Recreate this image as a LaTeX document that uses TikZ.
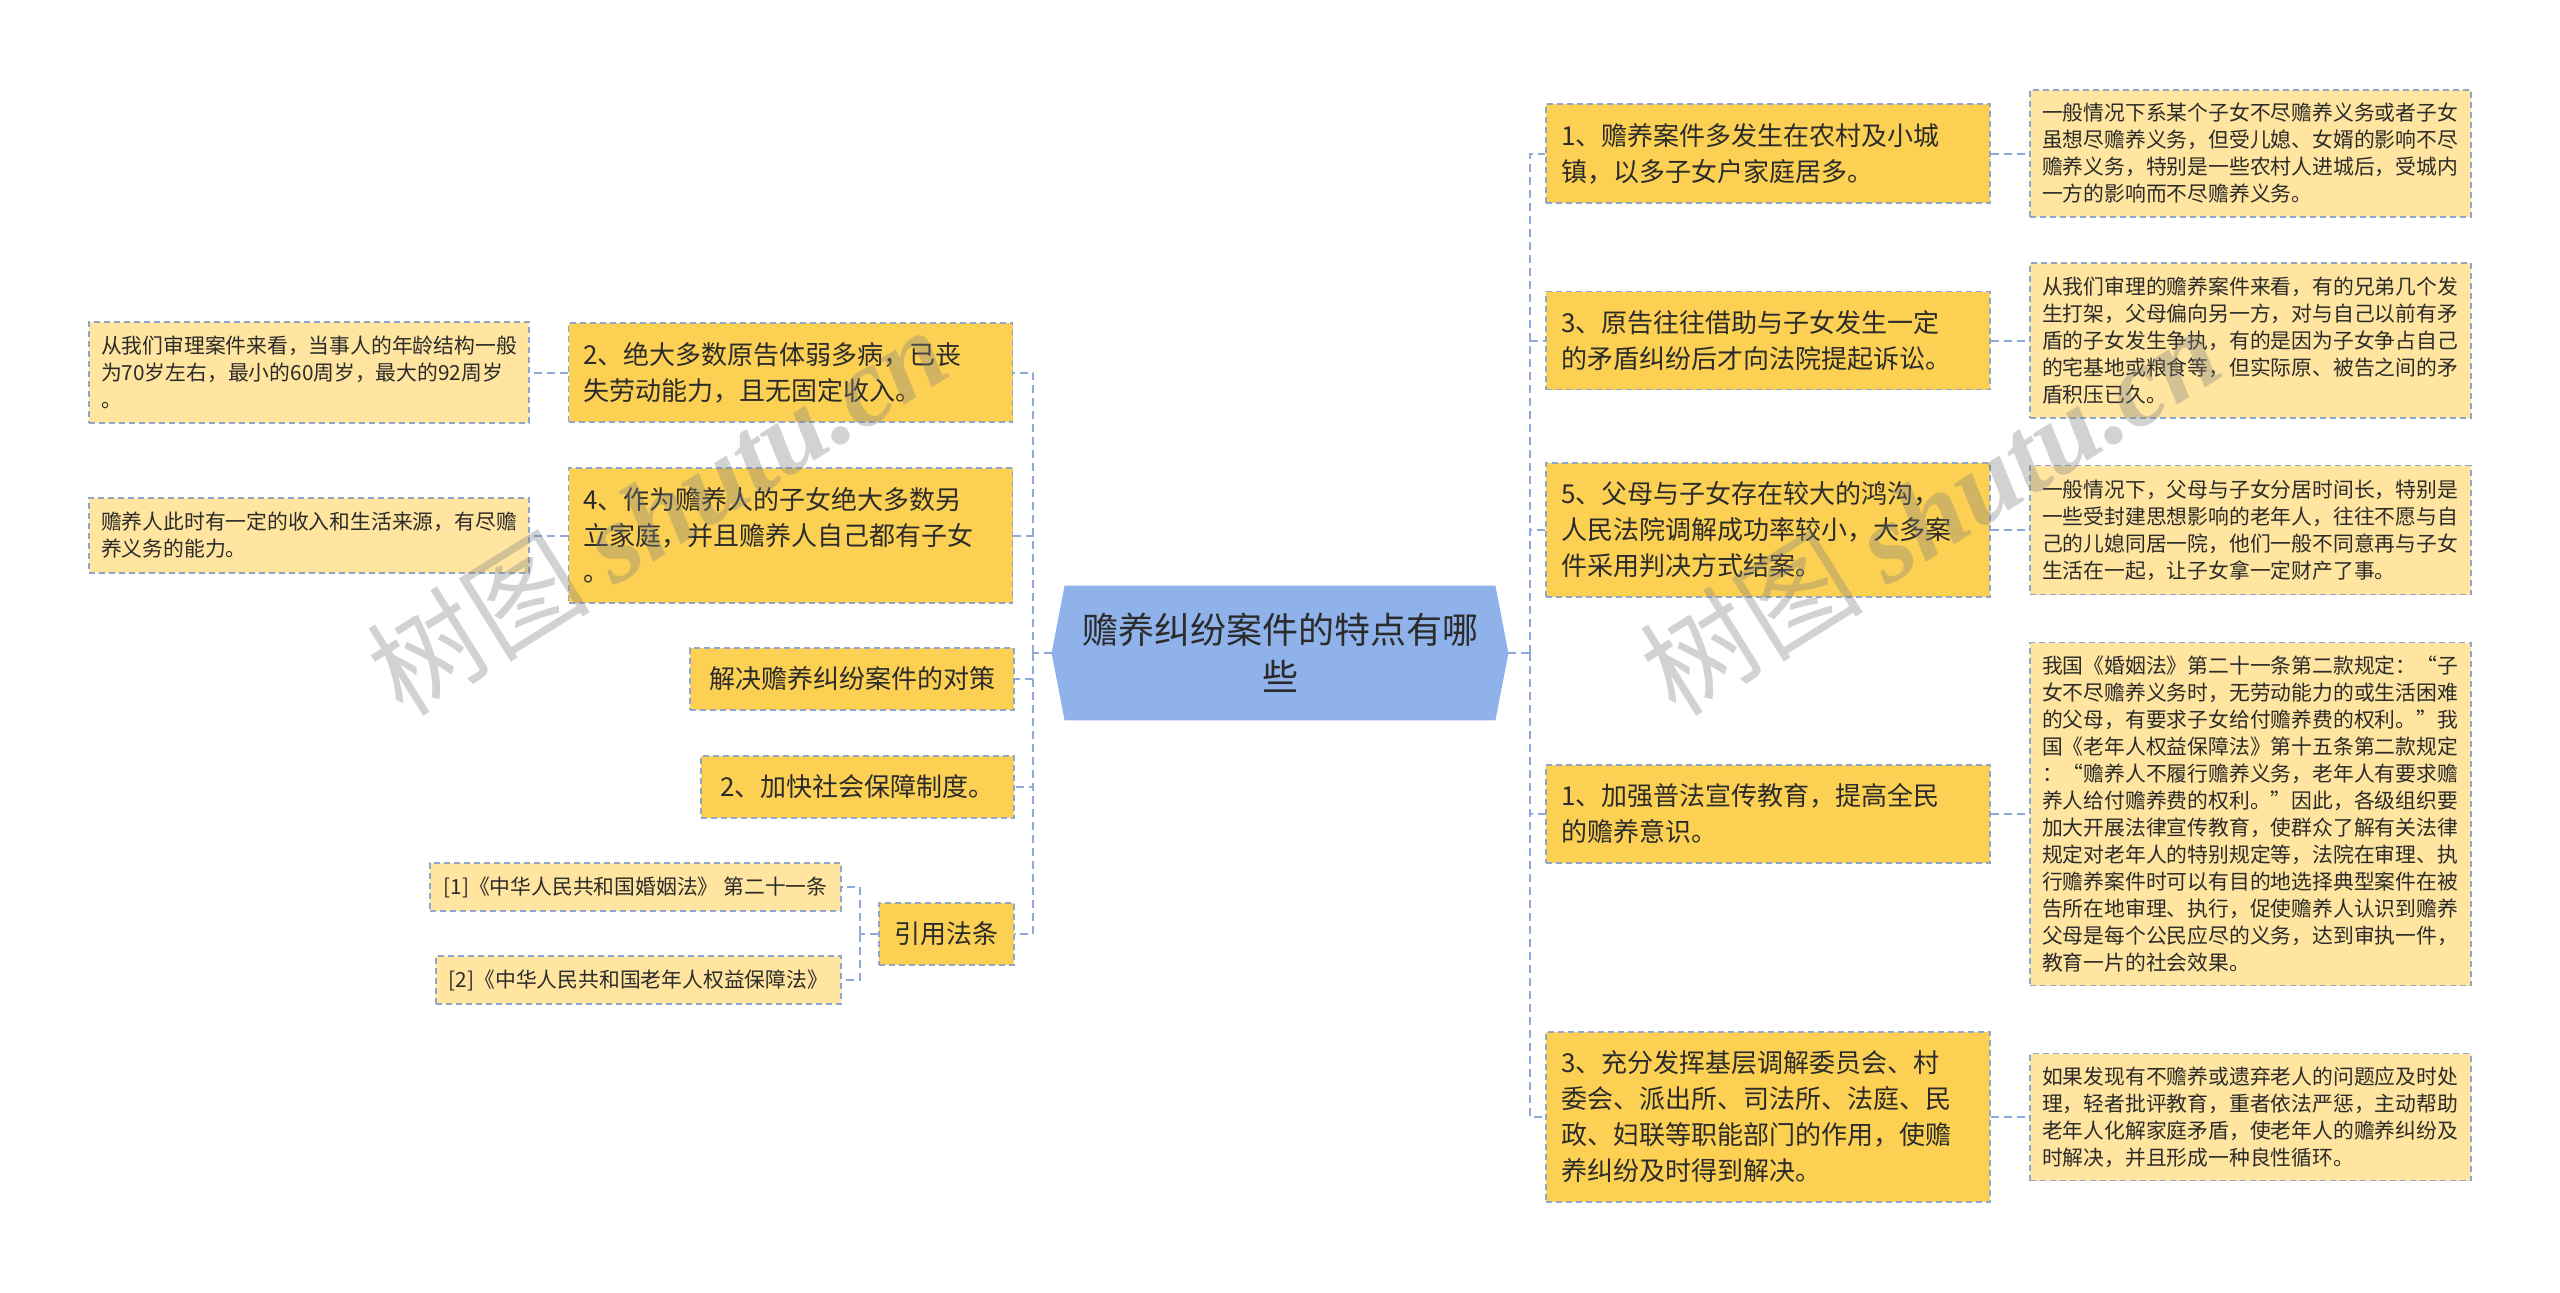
\documentclass[tikz,border=0pt]{standalone}
\usepackage{fontspec}
\setmainfont{Noto Sans CJK SC}
\newfontfamily\wmlat{Liberation Serif}
\usetikzlibrary{backgrounds}
\definecolor{mainfill}{HTML}{FCD153}
\definecolor{detfill}{HTML}{FFE59F}
\definecolor{rootfill}{HTML}{8EB2E9}
\definecolor{bordercol}{HTML}{8FA6CC}
\definecolor{conncol}{HTML}{8FA9D8}
\definecolor{txt}{HTML}{2B2B2B}
\begin{document}
\begin{tikzpicture}[x=0.5pt,y=-0.5pt,
  boxbase/.style={draw=bordercol, dash pattern=on 3pt off 2pt, line width=0.8pt, text=txt, inner ysep=0pt},
  mainbox/.style={boxbase, fill=mainfill, font=\fontsize{13}{18}\selectfont, inner xsep=7.5pt, align=left, text width=207pt},
  shortbox/.style={boxbase, fill=mainfill, font=\fontsize{13}{18}\selectfont, inner xsep=0pt, align=center, minimum height=31pt},
  detbox/.style={boxbase, fill=detfill, font=\fontsize{10.4}{13.5}\selectfont, inner xsep=6pt, align=left, text width=208.5pt},
  refbox/.style={boxbase, fill=detfill, font=\fontsize{10.4}{13.5}\selectfont, inner xsep=0pt, align=center, minimum height=24pt},
  rootnode/.style={text=txt, font=\fontsize{18}{23.5}\selectfont, align=center, minimum width=228pt, minimum height=67pt, inner sep=0pt},
  conn/.style={draw=conncol, line width=1pt, dash pattern=on 4pt off 2.5pt},
  wm/.style={text=gray, opacity=0.35, inner sep=0pt}]
\useasboundingbox (0,0) rectangle (2560,1292);
\begin{scope}[on background layer]
  \fill[white] (0,0) rectangle (2560,1292);
\end{scope}

% root
\node[rootnode] (root) at (1280,653) {赡养纠纷案件的特点有哪\\些};
\begin{scope}[on background layer]
  \fill[rootfill] (root.west) -- ([xshift=6.5pt]root.north west) -- ([xshift=-6.5pt]root.north east)
    -- (root.east) -- ([xshift=-6.5pt]root.south east) -- ([xshift=6.5pt]root.south west) -- cycle;
\end{scope}

% right main branches
\node[mainbox, minimum height=49.5pt] (r1) at (1768,153.5) {1、赡养案件多发生在农村及小城\\镇，以多子女户家庭居多。};
\node[mainbox, minimum height=49pt] (r2) at (1768,340.5) {3、原告往往借助与子女发生一定\\的矛盾纠纷后才向法院提起诉讼。};
\node[mainbox, minimum height=67pt] (r3) at (1768,530) {5、父母与子女存在较大的鸿沟，\\人民法院调解成功率较小，大多案\\件采用判决方式结案。};
\node[mainbox, minimum height=49pt] (r4) at (1768,814) {1、加强普法宣传教育，提高全民\\的赡养意识。};
\node[mainbox, minimum height=85pt] (r5) at (1768,1117) {3、充分发挥基层调解委员会、村\\委会、派出所、司法所、法庭、民\\政、妇联等职能部门的作用，使赡\\养纠纷及时得到解决。};

% right details
\node[detbox, minimum height=63.5pt] (d1) at (2250.5,153.5) {一般情况下系某个子女不尽赡养义务或者子女\\虽想尽赡养义务，但受儿媳、女婿的影响不尽\\赡养义务，特别是一些农村人进城后，受城内\\一方的影响而不尽赡养义务。};
\node[detbox, minimum height=77.5pt] (d2) at (2250.5,340.5) {从我们审理的赡养案件来看，有的兄弟几个发\\生打架，父母偏向另一方，对与自己以前有矛\\盾的子女发生争执，有的是因为子女争占自己\\的宅基地或粮食等，但实际原、被告之间的矛\\盾积压已久。};
\node[detbox, minimum height=64.5pt] (d3) at (2250.5,530) {一般情况下，父母与子女分居时间长，特别是\\一些受封建思想影响的老年人，往往不愿与自\\己的儿媳同居一院，他们一般不同意再与子女\\生活在一起，让子女拿一定财产了事。};
\node[detbox, minimum height=171.5pt] (d4) at (2250.5,814) {我国《婚姻法》第二十一条第二款规定：“子\\女不尽赡养义务时，无劳动能力的或生活困难\\的父母，有要求子女给付赡养费的权利。”我\\国《老年人权益保障法》第十五条第二款规定\\：“赡养人不履行赡养义务，老年人有要求赡\\养人给付赡养费的权利。”因此，各级组织要\\加大开展法律宣传教育，使群众了解有关法律\\规定对老年人的特别规定等，法院在审理、执\\行赡养案件时可以有目的地选择典型案件在被\\告所在地审理、执行，促使赡养人认识到赡养\\父母是每个公民应尽的义务，达到审执一件，\\教育一片的社会效果。};
\node[detbox, minimum height=63.5pt] (d5) at (2250.5,1117) {如果发现有不赡养或遗弃老人的问题应及时处\\理，轻者批评教育，重者依法严惩，主动帮助\\老年人化解家庭矛盾，使老年人的赡养纠纷及\\时解决，并且形成一种良性循环。};

% left main branches
\node[mainbox, minimum height=49.5pt] (l1) at (790.5,372.5) {2、绝大多数原告体弱多病，已丧\\失劳动能力，且无固定收入。};
\node[mainbox, minimum height=67.5pt] (l2) at (790.5,535.5) {4、作为赡养人的子女绝大多数另\\立家庭，并且赡养人自己都有子女\\。};
\node[shortbox, minimum width=162pt] (l3) at (852,679) {解决赡养纠纷案件的对策};
\node[shortbox, minimum width=156.5pt] (l4) at (857.5,787) {2、加快社会保障制度。};
\node[shortbox, minimum width=67.5pt] (l5) at (946.5,934) {引用法条};

% left details
\node[detbox, text width=208pt, minimum height=50.5pt] (ld1) at (309,372.5) {从我们审理案件来看，当事人的年龄结构一般\\为70岁左右，最小的60周岁，最大的92周岁\\。};
\node[detbox, text width=208pt, minimum height=37.5pt] (ld2) at (309,535.5) {赡养人此时有一定的收入和生活来源，有尽赡\\养义务的能力。};
\node[refbox, minimum width=205.5pt] (ref1) at (635.5,887) {[1]《中华人民共和国婚姻法》 第二十一条};
\node[refbox, minimum width=202.5pt] (ref2) at (638.5,980) {[2]《中华人民共和国老年人权益保障法》};

% connectors right
\coordinate (rt) at (1530,653);
\draw[conn] (root.east) -- (rt);
\foreach \n in {r1,r2,r3,r4,r5} \draw[conn] (rt) |- (\n.west);
\foreach \n in {1,2,3,4,5} \draw[conn] (r\n.east) -- (d\n.west);

% connectors left
\coordinate (lt) at (1033,653);
\draw[conn] (root.west) -- (lt);
\foreach \n in {l1,l2,l3,l4,l5} \draw[conn] (lt) |- (\n.east);
\draw[conn] (l1.west) -- (ld1.east);
\draw[conn] (l2.west) -- (ld2.east);
\coordinate (rf) at (860,934);
\draw[conn] (l5.west) -- (rf);
\draw[conn] (rf) |- (ref1.east);
\draw[conn] (rf) |- (ref2.east);

% watermarks
\node[wm, rotate=32] (wm1) at (657,510) {\fontsize{56}{60}\selectfont 树图 {\wmlat\bfseries\itshape shutu.cn}};
\node[wm, rotate=32] (wm2) at (1930,510) {\fontsize{56}{60}\selectfont 树图 {\wmlat\bfseries\itshape shutu.cn}};
\end{tikzpicture}
\end{document}
